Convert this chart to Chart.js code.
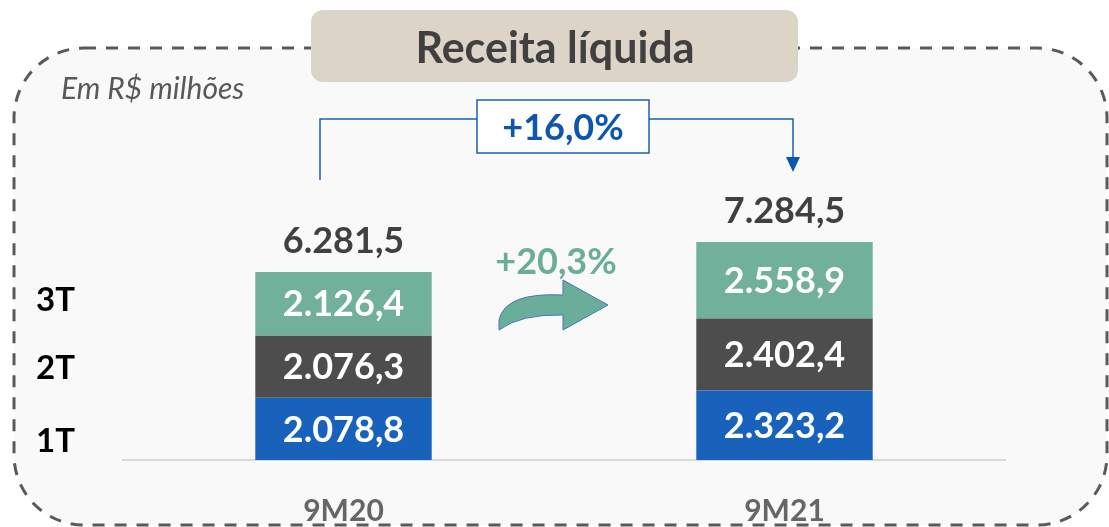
<!DOCTYPE html>
<html>
<head>
<meta charset="utf-8">
<script src="https://cdn.jsdelivr.net/npm/chart.js@4"></script>
<style>
  html, body { margin: 0; padding: 0; background: #fff; overflow: hidden; }
  #wrap { width: 1109px; height: 527px; position: relative; }
</style>
</head>
<body>
<div id="wrap"><canvas id="chart"></canvas></div>
<script>
// data (R$ milhões)
const categories = ["9M20", "9M21"];
const quarters = ["1T", "2T", "3T"];
const q1 = [2078.8, 2323.2];
const q2 = [2076.3, 2402.4];
const q3 = [2126.4, 2558.9];
const totals = [6281.5, 7284.5];
const growthTotal = "+16,0%";
const growthQ3 = "+20,3%";

const colors = ["#1862bc", "#4d4d4d", "#71b09b"];
const FONT = "Lato";

Chart.defaults.font.family = FONT;

// 6.281,5 style
function fmt(n) {
    var parts = n.toFixed(1).split(".");
    var int = parts[0].replace(/\B(?=(\d{3})+(?!\d))/g, ".");
    return int + "," + parts[1];
}

function roundRect(ctx, x, y, w, h, r) {
    ctx.beginPath();
    ctx.moveTo(x + r, y);
    ctx.lineTo(x + w - r, y);
    ctx.arcTo(x + w, y, x + w, y + r, r);
    ctx.lineTo(x + w, y + h - r);
    ctx.arcTo(x + w, y + h, x + w - r, y + h, r);
    ctx.lineTo(x + r, y + h);
    ctx.arcTo(x, y + h, x, y + h - r, r);
    ctx.lineTo(x, y + r);
    ctx.arcTo(x, y, x + r, y, r);
    ctx.closePath();
}

const decor = {
    id: "decor",
    beforeDraw(chart) {
        const ctx = chart.ctx;
        ctx.save();
        ctx.fillStyle = "#fff";
        ctx.fillRect(0, 0, chart.width, chart.height);

        // dashed frame
        roundRect(ctx, 14, 48, 1093, 477, 70);
        ctx.fillStyle = "#f9f9f9";
        ctx.fill();
        ctx.setLineDash([12, 10]);
        ctx.lineWidth = 3;
        ctx.strokeStyle = "#5a5a5a";
        ctx.stroke();
        ctx.setLineDash([]);

        // title box
        roundRect(ctx, 311, 10, 487, 72, 12);
        ctx.fillStyle = "#dcd4c6";
        ctx.fill();
        ctx.fillStyle = "#404040";
        ctx.font = "bold 43px " + FONT;
        ctx.textAlign = "center";
        ctx.textBaseline = "alphabetic";
        ctx.fillText("Receita líquida", 555, 63);

        ctx.font = "italic 30px " + FONT;
        ctx.fillStyle = "#595959";
        ctx.textAlign = "left";
        ctx.fillText("Em R$ milhões", 61, 99);
        ctx.restore();
    },
    afterDatasetsDraw(chart) {
        const ctx = chart.ctx;
        ctx.save();
        ctx.textAlign = "center";
        ctx.textBaseline = "middle";

        // values inside each segment
        ctx.font = "bold 36px " + FONT;
        ctx.fillStyle = "#fff";
        chart.data.datasets.forEach(function (ds, i) {
            chart.getDatasetMeta(i).data.forEach(function (bar, j) {
                ctx.fillText(fmt(ds.data[j]), bar.x, (bar.y + bar.base) / 2 + 1);
            });
        });

        // totals on top
        const topMeta = chart.getDatasetMeta(chart.data.datasets.length - 1);
        ctx.fillStyle = "#404040";
        topMeta.data.forEach(function (bar, j) {
            ctx.fillText(fmt(totals[j]), bar.x, bar.y - 31);
        });

        // quarter labels on the left
        ctx.font = "bold 33px " + FONT;
        ctx.fillStyle = "#000";
        ctx.textAlign = "left";
        ctx.fillText(quarters[2], 36, 300);
        ctx.fillText(quarters[1], 36, 368);
        ctx.fillText(quarters[0], 36, 441);

        // bracket with +16,0%
        const b0 = topMeta.data[0], b1 = topMeta.data[1];
        const lx = b0.x - 23.5, rx = b1.x + 8.5, ly = 119;
        ctx.strokeStyle = "#1a5fb4";
        ctx.lineWidth = 1.5;
        ctx.beginPath();
        ctx.moveTo(lx, 180);
        ctx.lineTo(lx, ly);
        ctx.lineTo(rx, ly);
        ctx.lineTo(rx, 160);
        ctx.stroke();
        ctx.fillStyle = "#0d56b0";
        ctx.beginPath();
        ctx.moveTo(rx - 7, 157);
        ctx.lineTo(rx + 7, 157);
        ctx.lineTo(rx, 172);
        ctx.closePath();
        ctx.fill();

        ctx.fillStyle = "#fff";
        ctx.fillRect(477, 100, 172, 53);
        ctx.strokeRect(477, 100, 172, 53);
        ctx.fillStyle = "#0d56b0";
        ctx.font = "bold 36px " + FONT;
        ctx.textAlign = "center";
        ctx.fillText(growthTotal, 563, 128);

        // green curved arrow with +20,3%
        ctx.fillStyle = "#6aae99";
        ctx.font = "bold 36px " + FONT;
        ctx.fillText(growthQ3, 556, 262);

        ctx.beginPath();
        ctx.moveTo(499, 330);
        ctx.quadraticCurveTo(520, 314, 563, 315);
        ctx.lineTo(563, 330);
        ctx.lineTo(608, 305);
        ctx.lineTo(563, 280);
        ctx.lineTo(563, 295);
        ctx.quadraticCurveTo(505, 292, 499, 320);
        ctx.closePath();
        ctx.fill();
        ctx.strokeStyle = "#4472c4";
        ctx.lineWidth = 1;
        ctx.stroke();
        ctx.restore();
    }
};

const k = 188 / totals[0];      // px per unit, from the reference
const yMax = 8000;

new Chart(document.getElementById("chart"), {
    type: "bar",
    data: {
        labels: categories,
        datasets: [
            { label: quarters[0], data: q1, backgroundColor: colors[0] },
            { label: quarters[1], data: q2, backgroundColor: colors[1] },
            { label: quarters[2], data: q3, backgroundColor: colors[2] }
        ]
    },
    options: {
        responsive: true,
        maintainAspectRatio: false,
        animation: false,
        layout: { padding: { left: 123, right: 104, top: 460 - yMax * k, bottom: 2 } },
        plugins: { legend: { display: false }, tooltip: { enabled: false } },
        datasets: { bar: { categoryPercentage: 0.4, barPercentage: 1, borderWidth: 0 } },
        scales: {
            x: {
                stacked: true,
                grid: { display: false, drawTicks: false },
                border: { display: true, color: "#d9d9d9", width: 2 },
                ticks: { color: "#666", padding: 33, font: { size: 30, weight: "bold" } },
                afterFit: function (scale) { scale.height = 65; }
            },
            y: { stacked: true, display: false, min: 0, max: yMax }
        }
    },
    plugins: [decor]
});
</script>
</body>
</html>
